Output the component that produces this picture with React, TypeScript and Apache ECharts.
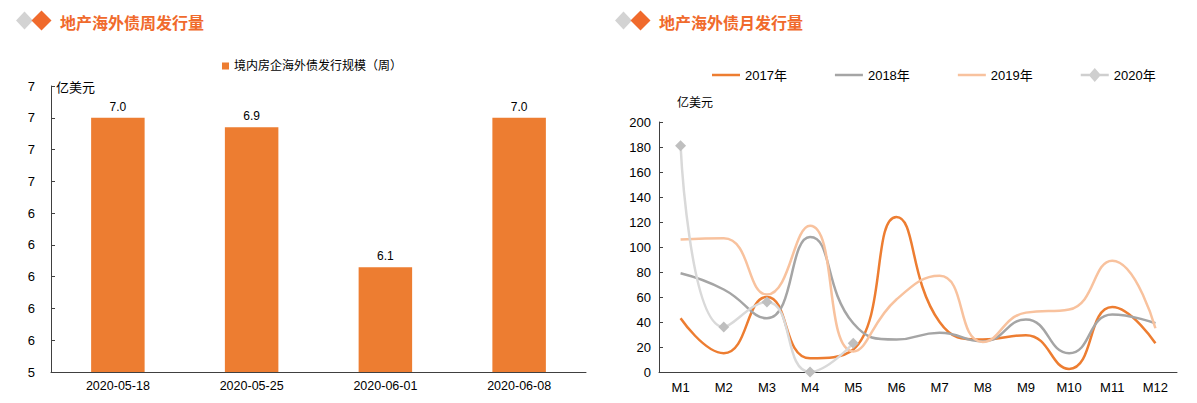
import React, { useEffect, useRef } from "react";
import * as echarts from "echarts";

const weekCategories = ["2020-05-18", "2020-05-25", "2020-06-01", "2020-06-08"];
const weekValues = [7.0, 6.94, 6.06, 7.0];
const weekSeriesName = "境内房企海外债发行规模（周）";

const monthCategories = ["M1", "M2", "M3", "M4", "M5", "M6", "M7", "M8", "M9", "M10", "M11", "M12"];
const y2017 = [43, 15, 60, 11, 18, 124, 40, 26, 29.5, 2.5, 52, 23];
const y2018 = [79, 66, 43, 108, 39, 26, 31.5, 24.5, 42, 15, 46, 39];
const y2019 = [106, 107, 62, 117, 16.5, 58, 77, 24, 47.5, 50, 89, 35];
const y2020 = [181, 36, 56, 0, 23];
const lineNames = ["2017年", "2018年", "2019年", "2020年"];

const leftTitle = "地产海外债周发行量";
const rightTitle = "地产海外债月发行量";
const unitLabel = "亿美元";

const FONT = "'Liberation Sans', Arial, 'Noto Sans CJK SC', sans-serif";
const AXIS_COLOR = "#404040";
const LINE_ICON = "path://M0,0h28v2.5h-28z";
const DIAMOND_ICON = "path://M0,5.75h9l5-5.75 5,5.75h9v2.5h-9l-5,5.75-5-5.75h-9z";

function titleGroup(x: number, text: string) {
  return {
    type: "group",
    x,
    y: 0,
    children: [
      {
        type: "polygon",
        shape: { points: [[0, 20.5], [8.5, 11.5], [17, 20.5], [8.5, 29.5]] },
        style: { fill: "#D3D3D3" },
      },
      {
        type: "polygon",
        shape: { points: [[15.5, 20.5], [25.5, 10.5], [35.5, 20.5], [25.5, 30.5]] },
        style: { fill: "#F06A2C" },
      },
      {
        type: "text",
        x: 44,
        y: 21.5,
        style: {
          text,
          fill: "#F06A2C",
          font: "bold 16px 'Noto Sans CJK SC', sans-serif",
          verticalAlign: "middle",
        },
      },
    ],
  };
}

export default function App() {
  const ref = useRef<HTMLDivElement>(null);
  useEffect(() => {
    if (!ref.current) return;
    const chart = echarts.init(ref.current, undefined, { renderer: "svg" });
    const option: any = {
      animation: false,
      backgroundColor: "#ffffff",
      textStyle: { fontFamily: FONT },
      graphic: [
        titleGroup(16, leftTitle),
        titleGroup(615, rightTitle),
        {
          type: "text",
          x: 56,
          y: 86,
          style: { text: unitLabel, fill: "#000", font: "13px 'Noto Sans CJK SC', sans-serif", verticalAlign: "middle" },
        },
        {
          type: "text",
          x: 677,
          y: 101,
          style: { text: unitLabel, fill: "#000", font: "12px 'Noto Sans CJK SC', sans-serif", verticalAlign: "middle" },
        },
      ],
      legend: [
        {
          data: [weekSeriesName],
          left: 217,
          top: 55,
          icon: "rect",
          itemWidth: 7,
          itemHeight: 7,
          textStyle: { fontSize: 12, color: "#000", fontFamily: FONT },
        },
        {
          data: [
            { name: lineNames[0], icon: LINE_ICON },
            { name: lineNames[1], icon: LINE_ICON },
            { name: lineNames[2], icon: LINE_ICON },
            { name: lineNames[3], icon: DIAMOND_ICON, itemStyle: { color: "#CFCFCF" } },
          ],
          left: 707,
          top: 63,
          itemWidth: 28,
          itemHeight: 14,
          itemGap: 48,
          textStyle: { fontSize: 13, color: "#000", fontFamily: FONT },
        },
      ],
      grid: [
        { left: 51, top: 86, width: 535, height: 286, outerBoundsMode: "none", containLabel: false },
        { left: 659, top: 122, width: 518, height: 250, outerBoundsMode: "none", containLabel: false },
      ],
      xAxis: [
        {
          gridIndex: 0,
          type: "category",
          data: weekCategories,
          axisLine: { lineStyle: { color: AXIS_COLOR } },
          axisTick: { inside: true, length: 4, lineStyle: { color: AXIS_COLOR } },
          axisLabel: { color: "#000", fontSize: 12.5, margin: 8, fontFamily: FONT },
        },
        {
          gridIndex: 1,
          type: "category",
          data: monthCategories,
          axisLine: { lineStyle: { color: AXIS_COLOR } },
          axisTick: { inside: true, length: 4, lineStyle: { color: AXIS_COLOR } },
          axisLabel: { color: "#000", fontSize: 13, margin: 9, fontFamily: FONT, interval: 0 },
        },
      ],
      yAxis: [
        {
          gridIndex: 0,
          type: "value",
          min: 5.4,
          max: 7.2,
          interval: 0.2,
          axisLine: { show: true, lineStyle: { color: AXIS_COLOR } },
          axisTick: { show: true, inside: true, length: 4, lineStyle: { color: AXIS_COLOR } },
          splitLine: { show: false },
          axisLabel: {
            color: "#000",
            fontSize: 13,
            margin: 16,
            fontFamily: FONT,
            formatter: (v: number) => String(Math.round(v)),
          },
        },
        {
          gridIndex: 1,
          type: "value",
          min: 0,
          max: 200,
          interval: 20,
          axisLine: { show: true, lineStyle: { color: AXIS_COLOR } },
          axisTick: { show: true, inside: true, length: 4, lineStyle: { color: AXIS_COLOR } },
          splitLine: { show: false },
          axisLabel: { color: "#000", fontSize: 13, margin: 8, fontFamily: FONT },
        },
      ],
      series: [
        {
          name: weekSeriesName,
          type: "bar",
          xAxisIndex: 0,
          yAxisIndex: 0,
          data: weekValues,
          barWidth: "40%",
          itemStyle: { color: "#ED7D31" },
          label: {
            show: true,
            position: "top",
            distance: 5,
            color: "#000",
            fontSize: 12,
            fontFamily: FONT,
            formatter: (p: any) => Number(p.value).toFixed(1),
          },
        },
        {
          name: lineNames[0],
          type: "line",
          xAxisIndex: 1,
          yAxisIndex: 1,
          data: y2017,
          smooth: 0.5,
          symbol: "none",
          lineStyle: { color: "#ED7D31", width: 2.5 },
          itemStyle: { color: "#ED7D31" },
        },
        {
          name: lineNames[1],
          type: "line",
          xAxisIndex: 1,
          yAxisIndex: 1,
          data: y2018,
          smooth: 0.5,
          symbol: "none",
          lineStyle: { color: "#A5A5A5", width: 2.5 },
          itemStyle: { color: "#A5A5A5" },
        },
        {
          name: lineNames[2],
          type: "line",
          xAxisIndex: 1,
          yAxisIndex: 1,
          data: y2019,
          smooth: 0.5,
          symbol: "none",
          lineStyle: { color: "#F8C29E", width: 2.5 },
          itemStyle: { color: "#F8C29E" },
        },
        {
          name: lineNames[3],
          type: "line",
          xAxisIndex: 1,
          yAxisIndex: 1,
          data: y2020,
          smooth: 0.5,
          symbol: "diamond",
          symbolSize: 11,
          lineStyle: { color: "#D9D9D9", width: 2.5 },
          itemStyle: { color: "#BFBFBF" },
        },
      ],
    };
    chart.setOption(option);
    return () => chart.dispose();
  }, []);
  return (
    <div
      ref={ref}
      style={{ position: "fixed", left: 0, top: 0, width: 1197, height: 403 }}
    />
  );
}
